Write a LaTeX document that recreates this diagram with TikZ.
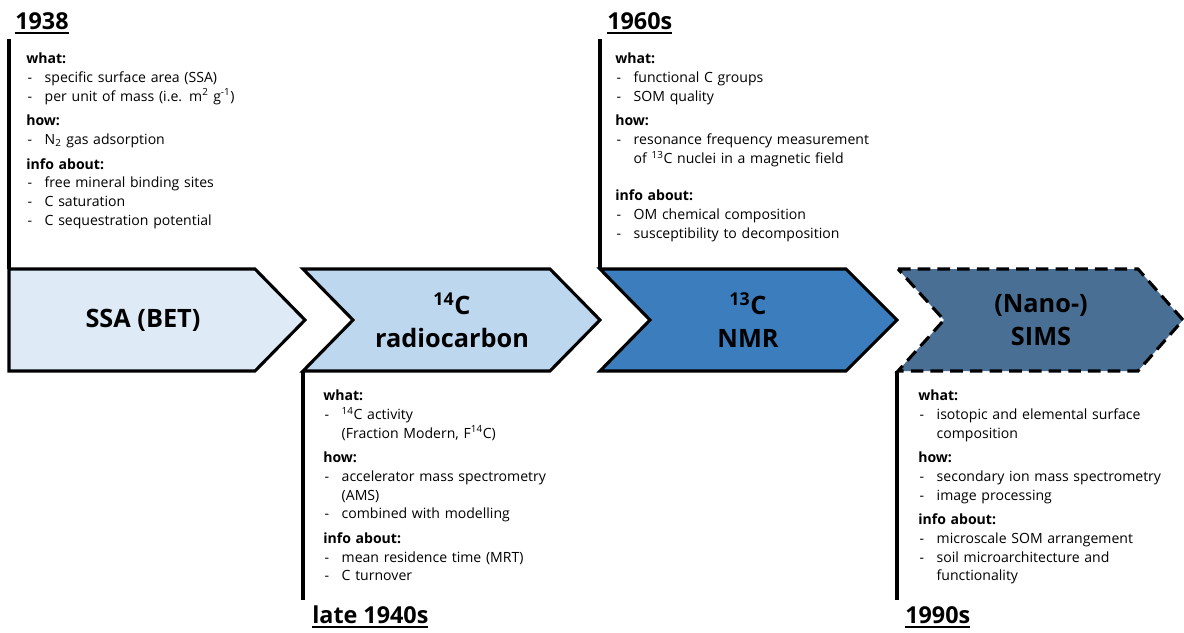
\documentclass[tikz,border=0pt]{standalone}
\usepackage{fontspec}
\setmainfont{Open Sans}
\usetikzlibrary{positioning}

\definecolor{ssafill}{HTML}{DEEBF7}
\definecolor{radiofill}{HTML}{BDD7EE}
\definecolor{nmrfill}{HTML}{3B7DBD}
\definecolor{simsfill}{HTML}{4A6F94}

% list helpers for the info blocks
\newcommand\hdr[1]{\par\vspace{4.5pt}\noindent\textbf{#1}\par}
\newcommand\itm[1]{\hangindent=13.1pt\hangafter=1\noindent\makebox[13.1pt][l]{\hspace{1pt}-}#1\par}
\newcommand\nl{\hfil\break}
\newcommand\yr[1]{\setbox0\hbox{#1}\rlap{\rule[-3.6pt]{\wd0}{1.3pt}}\box0}

\tikzset{
  chev/.style={draw, line width=2.2pt, line join=miter},
  timeline/.style={line width=2.2pt},
  chevlabel/.style={font=\fontsize{18}{23.4}\selectfont\bfseries, align=center},
  yearlabel/.style={font=\fontsize{16.6}{20}\selectfont\bfseries, inner sep=0pt, anchor=base west},
  infobox/.style={anchor=north west, inner sep=0pt, text width=9cm, align=left,
    font=\fontsize{10}{13.2}\selectfont},
}

\begin{document}
\begin{tikzpicture}[x=0.025cm, y=-0.025cm]
    \useasboundingbox (0,0) rectangle (1184,632);

    % chevrons
    \draw[chev, fill=ssafill] (9,269) -- (255,269) -- (305,320) -- (255,371) -- (9,371) -- cycle;
    \draw[chev, fill=radiofill] (303,269) -- (550,269) -- (600,320) -- (550,371) -- (303,371) -- (353,320) -- cycle;
    \draw[chev, fill=nmrfill] (600,269) -- (846,269) -- (897,320) -- (846,371) -- (600,371) -- (650,320) -- cycle;
    \draw[chev, fill=simsfill, dash pattern=on 9pt off 5pt] (898,269) -- (1138,269) -- (1183,320) -- (1138,371) -- (898,371) -- (944,320) -- cycle;

    \coordinate (c1) at (9,269);
    \coordinate (c2) at (303,371);
    \coordinate (c3) at (600,269);
    \coordinate (c4) at (897,371);

    \node (ssa) [chevlabel] at (143,320) {SSA (BET)};
    \node (radio) [chevlabel] at (452,320) {\textsuperscript{14}C\\radiocarbon};
    \node (nmr) [chevlabel] at (748,320) {\textsuperscript{13}C\\NMR};
    \node (sims) [chevlabel] at (1041,320) {(Nano-)\\SIMS};

    % years
    \node (y1938) [yearlabel] at (15,29) {\yr{1938}};
    \node (y1960) [yearlabel] at (607,29) {\yr{1960s}};
    \node (y1940) [yearlabel] at (312,623) {\yr{late 1940s}};
    \node (y1990) [yearlabel] at (905,623) {\yr{1990s}};

    \coordinate (t1) at (9,39);
    \coordinate (t2) at (303,600);
    \coordinate (t3) at (600,39);
    \coordinate (t4) at (897,600);

    \draw[timeline] (t1) -- (c1);
    \draw[timeline] (c2) -- (t2);
    \draw[timeline] (t3) -- (c3);
    \draw[timeline] (c4) -- (t4);

    % info blocks
    \node (info1) [infobox] at (26,53) {
        \textbf{what:}\par
        \itm{specific surface area (SSA)}
        \itm{per unit of mass (i.e. m\textsuperscript{2} g\textsuperscript{-1})}
        \hdr{how:}
        \itm{N\textsubscript{2} gas adsorption}
        \hdr{info about:}
        \itm{free mineral binding sites}
        \itm{C saturation}
        \itm{C sequestration potential}
    };
    \node (info2) [infobox] at (323,390) {
        \textbf{what:}\par
        \itm{\textsuperscript{14}C activity\nl (Fraction Modern, F\textsuperscript{14}C)}
        \hdr{how:}
        \itm{accelerator mass spectrometry\nl (AMS)}
        \itm{combined with modelling}
        \hdr{info about:}
        \itm{mean residence time (MRT)}
        \itm{C turnover}
    };
    \node (info3) [infobox] at (615,53) {
        \textbf{what:}\par
        \itm{functional C groups}
        \itm{SOM quality}
        \hdr{how:}
        \itm{resonance frequency measurement\nl of \textsuperscript{13}C nuclei in a magnetic field}
        \vspace{9.2pt}
        \hdr{info about:}
        \itm{OM chemical composition}
        \itm{susceptibility to decomposition}
    };
    \node (info4) [infobox] at (918,390) {
        \textbf{what:}\par
        \itm{isotopic and elemental surface\nl composition}
        \hdr{how:}
        \itm{secondary ion mass spectrometry}
        \itm{image processing}
        \hdr{info about:}
        \itm{microscale SOM arrangement}
        \itm{soil microarchitecture and\nl functionality}
    };
\end{tikzpicture}
\end{document}
